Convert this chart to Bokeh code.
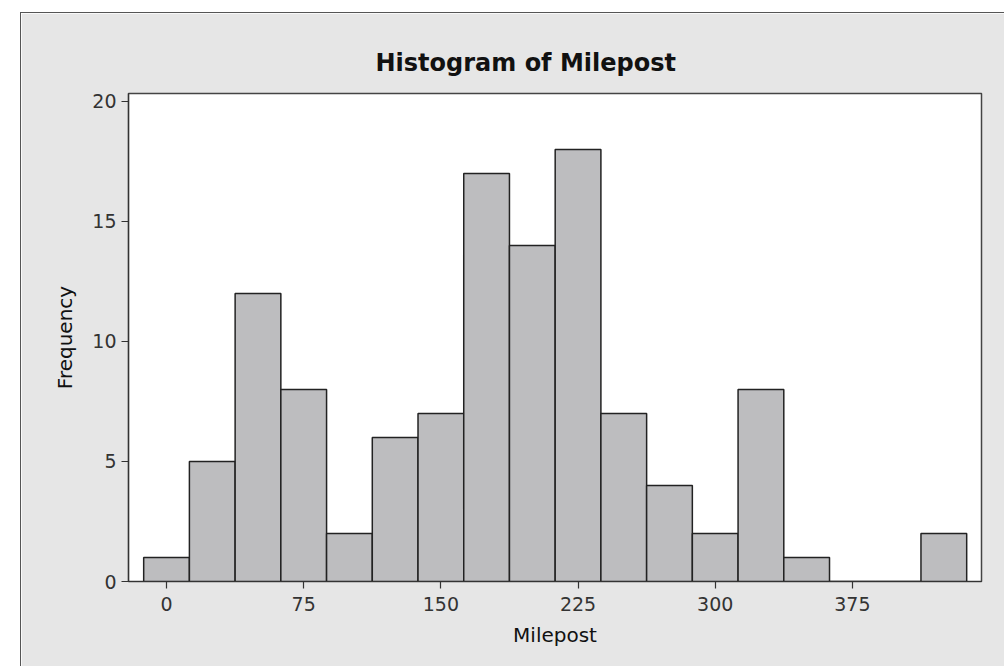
from bokeh.plotting import figure
from bokeh.models import Range1d, FixedTicker, ColumnDataSource
from bokeh.embed import file_html
from bokeh.resources import INLINE

# Histogram data (bin width 25, bins centred on 0, 25, ..., 425)
bin_centers = [0, 25, 50, 75, 100, 125, 150, 175, 200, 225, 250, 275, 300, 325, 350, 375, 400, 425]
counts = [1, 5, 12, 8, 2, 6, 7, 17, 14, 18, 7, 4, 2, 8, 1, 0, 0, 2]
bin_width = 25
x_ticks = [0, 75, 150, 225, 300, 375]
y_ticks = [0, 5, 10, 15, 20]

src = ColumnDataSource(dict(
    left=[c - bin_width / 2 for c in bin_centers],
    right=[c + bin_width / 2 for c in bin_centers],
    top=counts,
    bottom=[0] * len(counts),
))

FONT = "DejaVu Sans"

p = figure(width=984, height=654, output_backend="svg", toolbar_location=None,
           x_range=Range1d(-20.8, 445.6), y_range=Range1d(0, 20.33),
           min_border_left=107, min_border_right=24, min_border_top=80, min_border_bottom=86)
p.margin = (12, 0, 0, 20)
p.styles = {"border-top": "1px solid #555555", "border-left": "1px solid #555555", "box-sizing": "border-box"}

p.background_fill_color = "white"
p.border_fill_color = "#e6e6e6"
p.outline_line_color = "#444444"
p.outline_line_width = 1.5
p.grid.visible = False

p.quad(left="left", right="right", top="top", bottom="bottom", source=src,
       fill_color="#bdbdbf", line_color="#222222", line_width=1.5)

p.title.text = "Histogram of Milepost"
p.title.text_font = FONT
p.title.text_font_style = "bold"
p.title.text_font_size = "24px"
p.title.text_color = "#111111"
p.title.align = "left"
p.title.offset = 247
p.title.standoff = 34

for ax in (p.xaxis[0], p.yaxis[0]):
    ax.major_label_text_font = FONT
    ax.major_label_text_font_size = "19px"
    ax.major_label_text_color = "#333333"
    ax.axis_label_text_font = FONT
    ax.axis_label_text_font_size = "20px"
    ax.axis_label_text_font_style = "normal"
    ax.axis_label_text_color = "#111111"
    ax.axis_line_color = "#333333"
    ax.axis_line_width = 1.2
    ax.major_tick_line_color = "#333333"
    ax.major_tick_line_width = 1.2
    ax.major_tick_in = 0
    ax.major_tick_out = 7
    ax.minor_tick_line_color = None

p.xaxis.ticker = FixedTicker(ticks=x_ticks)
p.yaxis.ticker = FixedTicker(ticks=y_ticks)
p.xaxis.axis_label = "Milepost"
p.yaxis.axis_label = "Frequency"
p.xaxis.major_label_standoff = 8
p.yaxis.major_label_standoff = 5
p.xaxis.axis_label_standoff = 9
p.yaxis.axis_label_standoff = 12

open("out.html", "w").write(file_html(p, INLINE))
